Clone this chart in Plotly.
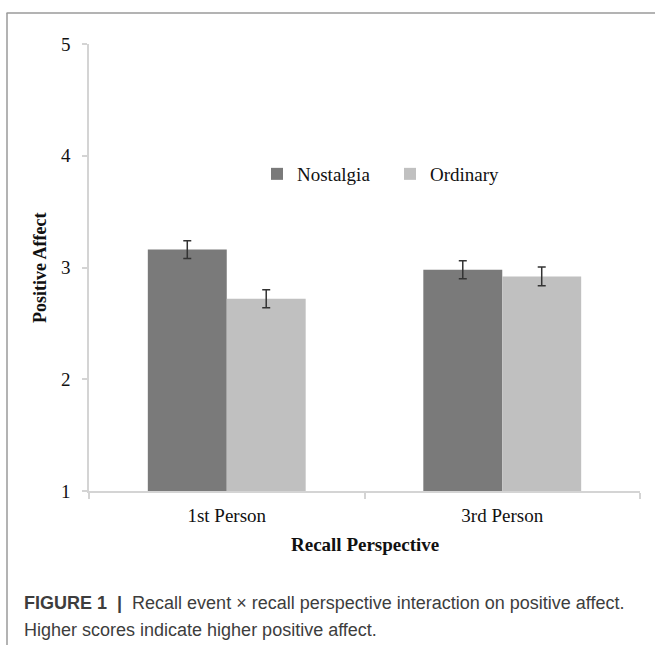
import plotly.graph_objects as go

categories = ["1st Person", "3rd Person"]
nostalgia = [3.16, 2.98]
nostalgia_err = [0.08, 0.08]
ordinary = [2.72, 2.92]
ordinary_err = [0.08, 0.084]
y_ticks = [1, 2, 3, 4, 5]

W, H = 655, 645
L, R, T, B = 89, 640, 44, 491  # plot area in pixels


def px(x):
    return (x - L) / (R - L)


def py(y):
    return (B - y) / (B - T)


serif = "Liberation Serif, Times New Roman, serif"
sans = "Liberation Sans, Arial, sans-serif"

fig = go.Figure()
fig.add_trace(go.Bar(
    name="Nostalgia", x=categories, y=[v - 1 for v in nostalgia], base=1,
    marker=dict(color="#7a7a7a", line=dict(width=0)),
    error_y=dict(type="data", array=nostalgia_err, color="#333333", thickness=1.5, width=4),
))
fig.add_trace(go.Bar(
    name="Ordinary", x=categories, y=[v - 1 for v in ordinary], base=1,
    marker=dict(color="#c0c0c0", line=dict(width=0)),
    error_y=dict(type="data", array=ordinary_err, color="#333333", thickness=1.5, width=4),
))

fig.update_layout(
    width=W, height=H,
    margin=dict(l=L, r=W - R, t=T, b=H - B, pad=0),
    paper_bgcolor="white", plot_bgcolor="white",
    barmode="group", bargap=0.427, bargroupgap=0,
    showlegend=True,
    legend=dict(orientation="h", x=px(257), y=py(174), xanchor="left", yanchor="middle",
                font=dict(family=serif, size=19, color="#111"), bgcolor="rgba(0,0,0,0)",
                itemwidth=30, entrywidth=88, entrywidthmode="pixels"),
    font=dict(family=serif, color="#111"),
)
fig.update_xaxes(
    showline=True, linecolor="#d4d4d4", linewidth=1.5,
    ticks="outside", tickson="boundaries", ticklen=6, tickcolor="#d4d4d4", tickwidth=1.5,
    ticklabelstandoff=6,
    tickfont=dict(family=serif, size=19, color="#111"), showgrid=False, zeroline=False,
)
fig.update_yaxes(
    range=[1, 5], tickvals=y_ticks, showline=True, linecolor="#d4d4d4", linewidth=1.5,
    ticks="outside", ticklen=5, tickcolor="#d4d4d4", tickwidth=1.5,
    ticklabelstandoff=8,
    tickfont=dict(family=serif, size=19, color="#111"), showgrid=False, zeroline=False,
)

annotations = [
    dict(text="<b>Positive Affect</b>", x=px(40), y=py(268), textangle=-90,
         font=dict(family=serif, size=18, color="#111")),
    dict(text="<b>Recall Perspective</b>", x=px(365), y=py(544),
         font=dict(family=serif, size=19, color="#111")),
    dict(text="<b>FIGURE 1</b>  <b>|</b>  Recall event × recall perspective interaction on positive affect.",
         x=px(22), y=py(603), xanchor="left", font=dict(family=sans, size=18, color="#3d3d3d")),
    dict(text="Higher scores indicate higher positive affect.",
         x=px(22), y=py(630), xanchor="left", font=dict(family=sans, size=18, color="#3d3d3d")),
]
for a in annotations:
    a.setdefault("xanchor", "center")
    a.update(xref="paper", yref="paper", yanchor="middle", showarrow=False)
fig.update_layout(annotations=annotations)

fig.update_layout(shapes=[
    dict(type="line", xref="paper", yref="paper", x0=px(6.5), x1=px(655), y0=py(13), y1=py(13),
         line=dict(color="#9a9a9a", width=1.5)),
    dict(type="line", xref="paper", yref="paper", x0=px(7), x1=px(7), y0=py(13), y1=py(645),
         line=dict(color="#9a9a9a", width=1.5)),
])

fig.write_html(
    "out.html",
    config={"displayModeBar": False},
    post_script="document.body.style.margin='0';document.body.style.overflow='hidden';",
)
